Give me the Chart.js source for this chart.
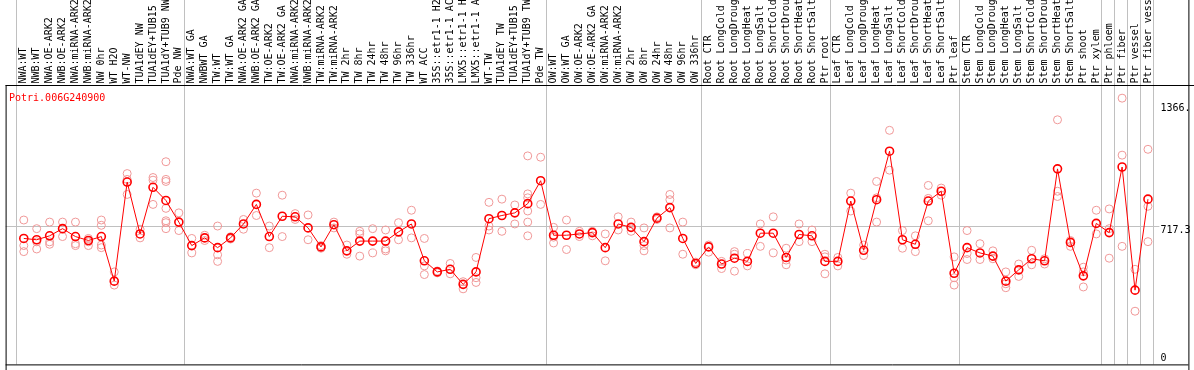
<!DOCTYPE html>
<html>
<head>
<meta charset="utf-8">
<script src="https://cdn.jsdelivr.net/npm/chart.js@4.4.1/dist/chart.umd.min.js"></script>
<style>
  body { margin: 0; background: #fff; }
  canvas { display: block; }
</style>
</head>
<body>
<canvas id="grafico" width="1194" height="370"></canvas>
<script>
const geneName = 'Potri.006G240900';

const categories = [
    'NWA:WT', 'NWB:WT', 'NWA:OE-ARK2', 'NWB:OE-ARK2', 'NWA:miRNA-ARK2', 'NWB:miRNA-ARK2',
    'NW 0hr', 'WT H2O', 'WT-NW', 'TUA1dEY NW', 'TUA1dEY+TUB15 NW', 'TUA1dY+TUB9 NW', 'Pde NW',
    'NWA:WT GA', 'NWBWT GA', 'TW:WT', 'TW:WT GA', 'NWA:OE-ARK2 GA', 'NWB:OE-ARK2 GA',
    'TW:OE-ARK2', 'TW:OE-ARK2 GA', 'NWA:miRNA-ARK2', 'NWB:miRNA-ARK2', 'TW:miRNA-ARK2',
    'TW:miRNA-ARK2', 'TW 2hr', 'TW 8hr', 'TW 24hr', 'TW 48hr', 'TW 96hr', 'TW 336hr',
    'WT ACC', '35S::etr1-1 H2O', '35S::etr1-1 ACC', 'LMX5::etr1-1 H2O', 'LMX5::etr1-1 ACC',
    'WT-TW', 'TUA1dEY TW', 'TUA1dEY+TUB15 TW', 'TUA1dY+TUB9 TW', 'Pde TW',
    'OW:WT', 'OW:WT GA', 'OW:OE-ARK2', 'OW:OE-ARK2 GA', 'OW:miRNA-ARK2', 'OW:miRNA-ARK2',
    'OW 2hr', 'OW 8hr', 'OW 24hr', 'OW 48hr', 'OW 96hr', 'OW 336hr',
    'Root CTR', 'Root LongCold', 'Root LongDrought', 'Root LongHeat', 'Root LongSalt',
    'Root ShortCold', 'Root ShortDrought', 'Root ShortHeat', 'Root ShortSalt', 'Ptr root',
    'Leaf CTR', 'Leaf LongCold', 'Leaf LongDrought', 'Leaf LongHeat', 'Leaf LongSalt',
    'Leaf ShortCold', 'Leaf ShortDrought', 'Leaf ShortHeat', 'Leaf ShortSalt', 'Ptr leaf',
    'Stem CTR', 'Stem LongCold', 'Stem LongDrought', 'Stem LongHeat', 'Stem LongSalt',
    'Stem ShortCold', 'Stem ShortDrought', 'Stem ShortHeat', 'Stem ShortSalt', 'Ptr shoot',
    'Ptr xylem', 'Ptr phloem', 'Ptr fiber', 'Ptr vessel', 'Ptr fiber vessel'
];

const meanValues = [
    651, 644, 665, 703, 661, 640, 661, 424, 951, 675, 923, 853, 738,
    613, 654, 602, 654, 728, 832, 661, 769, 766, 707, 606, 724, 585, 637, 637, 637, 686, 728,
    532, 473, 487, 407, 473, 756, 773, 787, 836, 958,
    668, 668, 675, 682, 602, 728, 710, 634, 759, 815, 651, 518,
    606, 515, 546, 529, 679, 679, 550, 672, 665, 529,
    529, 850, 588, 857, 1115, 644, 620, 850, 902, 466,
    602, 574, 557, 424, 484, 543, 532, 1021, 630, 452,
    731, 682, 1031, 376, 860
];

const replicateValues = [
    [749, 613, 581], [703, 633, 595], [738, 633, 620], [738, 703, 661], [738, 623, 613],
    [651, 633, 613], [749, 721, 616, 602], [473, 403], [996, 965, 885], [700, 654],
    [975, 961, 832], [1059, 965, 954, 811, 745, 735, 703], [787, 693],
    [651, 574], [668, 640], [717, 564, 529], [660, 648], [752, 700], [892, 773],
    [717, 602], [881, 661], [783, 752], [776, 644], [613, 599], [738, 707],
    [616, 567], [689, 675, 557], [703, 574], [696, 595, 585], [735, 644], [801, 654],
    [651, 505, 459], [478, 468], [518, 463], [421, 383], [550, 442, 417],
    [843, 717, 696], [860, 689], [829, 728], [1090, 888, 867, 797, 738, 665], [1083, 832],
    [710, 658, 627], [749, 592], [689, 661], [689, 665], [675, 532], [766, 696],
    [738, 689], [707, 613, 585], [766, 752], [885, 857, 707], [738, 567], [525, 511],
    [616, 578], [529, 491], [581, 567, 477], [571, 505], [728, 609], [766, 574],
    [599, 536, 511], [728, 634], [696, 634], [567, 553, 463],
    [550, 505], [892, 797], [616, 560], [954, 867, 738], [1226, 1014], [693, 599],
    [665, 581], [933, 864, 745], [919, 881], [553, 442, 403],
    [693, 571, 539], [623, 539], [585, 543], [473, 410, 389], [515, 449], [588, 511],
    [543, 515], [1282, 902, 874], [640, 609], [498, 473, 393],
    [801, 675], [808, 703, 546], [1397, 1094, 609], [487, 264], [1125, 822, 634]
];

// indice da primeira categoria de cada grupo (linhas cinzas verticais)
const groupStarts = [0, 13, 41, 53, 63, 73, 84, 85, 86, 87, 88];

const tickValues = [1366, 717.3, 0];
const tickLabels = ['1366.', '717.3', '0'];
const midValue = 717.3;

const fonte = '10px "DejaVu Sans Mono", monospace';

const fundo = {
    id: 'fundo',
    beforeDatasetsDraw(chart) {
        const { ctx, chartArea, scales: { x, y } } = chart;
        ctx.save();
        ctx.strokeStyle = '#c0c0c0';
        ctx.lineWidth = 1;
        groupStarts.forEach(i => {
            const px = Math.round(x.getPixelForValue(i - 0.615)) + 0.5;
            ctx.beginPath();
            ctx.moveTo(px, 0);
            ctx.lineTo(px, chartArea.bottom);
            ctx.stroke();
        });
        const py = Math.round(y.getPixelForValue(midValue)) + 0.5;
        ctx.beginPath();
        ctx.moveTo(chartArea.left, py);
        ctx.lineTo(chartArea.right - 29, py);
        ctx.stroke();
        ctx.restore();
    }
};

const molduraETextos = {
    id: 'molduraETextos',
    afterDraw(chart) {
        const { ctx, chartArea: a, scales: { x, y } } = chart;
        const w = chart.width, h = chart.height;
        ctx.save();
        ctx.strokeStyle = '#000';
        ctx.lineWidth = 1;
        ctx.beginPath();
        ctx.moveTo(a.left, a.top + 0.5);
        ctx.lineTo(w, a.top + 0.5);
        ctx.moveTo(a.left + 0.5, a.top);
        ctx.lineTo(a.left + 0.5, h);
        ctx.moveTo(a.left, a.bottom + 0.5);
        ctx.lineTo(a.right, a.bottom + 0.5);
        ctx.moveTo(a.right + 0.5, 0);
        ctx.lineTo(a.right + 0.5, h);
        ctx.stroke();

        ctx.font = fonte;
        ctx.fillStyle = '#000';
        ctx.textAlign = 'left';
        ctx.textBaseline = 'middle';
        categories.forEach((c, i) => {
            ctx.save();
            ctx.translate(x.getPixelForValue(i), a.top - 1.5);
            ctx.rotate(-Math.PI / 2);
            ctx.fillText(c, 0, 0);
            ctx.restore();
        });

        ctx.textBaseline = 'alphabetic';
        ctx.fillStyle = '#ff0000';
        ctx.fillText(geneName, 9, 101);

        ctx.fillStyle = '#000';
        tickValues.forEach((v, k) => {
            const base = Math.min(y.getPixelForValue(v) + 7.5, a.bottom - 3.3);
            ctx.fillText(tickLabels[k], a.right - 28, base);
        });
        ctx.restore();
    }
};

const pontosReplicas = [];
replicateValues.forEach((lista, i) => {
    lista.forEach(v => pontosReplicas.push({ x: i, y: v }));
});

new Chart(document.getElementById('grafico').getContext('2d'), {
    type: 'line',
    data: {
        datasets: [{
            type: 'line',
            data: meanValues.map((v, i) => ({ x: i, y: v })),
            borderColor: '#ff0000',
            borderWidth: 1,
            pointRadius: 4,
            pointBorderWidth: 1.6,
            pointBorderColor: '#ff0000',
            pointBackgroundColor: 'rgba(0,0,0,0)',
            tension: 0,
            order: 0
        }, {
            type: 'scatter',
            data: pontosReplicas,
            pointRadius: 4,
            borderWidth: 1,
            borderColor: '#f09898',
            backgroundColor: 'rgba(0,0,0,0)',
            order: 1
        }]
    },
    options: {
        responsive: false,
        animation: false,
        layout: { padding: { top: 85, left: 1, right: 3, bottom: 1 } },
        scales: {
            x: { type: 'linear', display: false, min: -1.408, max: 90.13 },
            y: { type: 'linear', display: false, min: -18.8, max: 1467 }
        },
        plugins: {
            legend: { display: false },
            tooltip: { enabled: false }
        }
    },
    plugins: [fundo, molduraETextos]
});
</script>
</body>
</html>
